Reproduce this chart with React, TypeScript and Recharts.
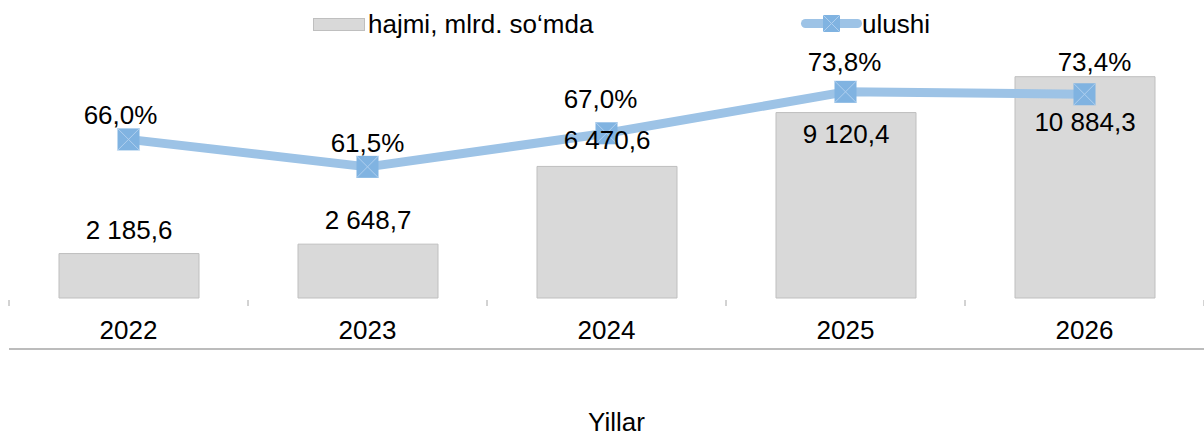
import React from 'react';
import { ComposedChart, Bar, Line, XAxis, YAxis, LabelList, Legend } from 'recharts';

// data
const years = ['2022', '2023', '2024', '2025', '2026'];
const hajmi = [2185.6, 2648.7, 6470.6, 9120.4, 10884.3];
const ulushi = [66.0, 61.5, 67.0, 73.8, 73.4];

const data = years.map((year, i) => ({ year, hajmi: hajmi[i], ulushi: ulushi[i] }));

const W = 1204;
const H = 436;
const M = { top: 14, right: 0, left: 9, bottom: 0 };
const half = (W - M.left - M.right) / years.length / 2;
const FONT = '"Liberation Sans", Arial, sans-serif';
const FS = 26;

// label nudges, like the hand-placed labels in the original
const barLabelDy = [-24, -24, -26, 21, 45];
const lineLabelDx = [-8, 0, -6, -1, 10];
const lineLabelDy = [-24, -24, -34, -30, -32];

const fmtNum = (v: number) => {
  const [int, dec] = v.toFixed(1).split('.');
  return int.replace(/\B(?=(\d{3})+(?!\d))/g, ' ') + ',' + dec;
};
const fmtPct = (v: number) => v.toFixed(1).replace('.', ',') + '%';

const YearTick = (props: any) => {
  const { x, y, payload, index } = props;
  return (
    <g>
      <line x1={x - half} x2={x - half} y1={y + 2} y2={y + 8} stroke="#A6A6A6" />
      {index === years.length - 1 && <line x1={x + half} x2={x + half} y1={y + 2} y2={y + 8} stroke="#A6A6A6" />}
      <line x1={x - half} x2={x + half} y1={y + 51} y2={y + 51} stroke="#A6A6A6" strokeWidth={1.5} />
      <text x={x} y={y + 32} textAnchor="middle" dominantBaseline="central" fontSize={FS} fontFamily={FONT} fill="#000">
        {payload.value}
      </text>
    </g>
  );
};

const AxisTitle = (props: any) => {
  const vb = props.viewBox;
  return (
    <text x={vb.x + vb.width / 2 + 10} y={vb.y + 133} textAnchor="middle" fontSize={FS} fontFamily={FONT} fill="#000">
      Yillar
    </text>
  );
};

const BarLabel = (props: any) => {
  const { x, y, width, value, index } = props;
  return (
    <text x={Number(x) + Number(width) / 2} y={Number(y) + barLabelDy[index]} textAnchor="middle" dominantBaseline="central" fontSize={FS} fontFamily={FONT} fill="#000">
      {fmtNum(value)}
    </text>
  );
};

const LineLabel = (props: any) => {
  const { x, y, value, index } = props;
  return (
    <text x={Number(x) + lineLabelDx[index]} y={Number(y) + lineLabelDy[index]} textAnchor="middle" dominantBaseline="central" fontSize={FS} fontFamily={FONT} fill="#000">
      {fmtPct(value)}
    </text>
  );
};

const Marker = (props: any) => {
  const { cx, cy, index } = props;
  const s = 11;
  return (
    <g key={'m' + index}>
      <rect x={cx - s} y={cy - s} width={s * 2} height={s * 2} fill="#80B3E1" />
      <line x1={cx - s} y1={cy - s} x2={cx + s} y2={cy + s} stroke="#AFCFEF" strokeWidth={1} />
      <line x1={cx - s} y1={cy + s} x2={cx + s} y2={cy - s} stroke="#AFCFEF" strokeWidth={1} />
    </g>
  );
};

const LegendBox = () => (
  <div style={{ position: 'relative', height: 40, width: W, fontFamily: FONT, fontSize: FS, color: '#000' }}>
    <div style={{ position: 'absolute', left: 313, top: 18, width: 52, height: 13, background: '#D9D9D9', border: '1px solid #BFBFBF', boxSizing: 'border-box' }} />
    <div style={{ position: 'absolute', left: 368, top: 9, lineHeight: '30px', whiteSpace: 'nowrap' }}>hajmi, mlrd. so‘mda</div>
    <div style={{ position: 'absolute', left: 801, top: 19, width: 61, height: 9, borderRadius: 5, background: '#9DC3E6' }} />
    <svg style={{ position: 'absolute', left: 823, top: 15 }} width={17} height={17}>
      <rect x={0} y={0} width={17} height={17} fill="#80B3E1" />
      <line x1={0} y1={0} x2={17} y2={17} stroke="#AFCFEF" />
      <line x1={0} y1={17} x2={17} y2={0} stroke="#AFCFEF" />
    </svg>
    <div style={{ position: 'absolute', left: 862, top: 9, lineHeight: '30px', whiteSpace: 'nowrap' }}>ulushi</div>
  </div>
);

export default function App() {
  return (
    <div>
      <style>{'body{margin:0;overflow:hidden;}'}</style>
      <ComposedChart width={W} height={H} data={data} margin={M}>
        <Legend verticalAlign="top" content={<LegendBox />} wrapperStyle={{ top: 0, left: 0, width: W }} />
        <XAxis
          dataKey="year"
          height={138}
          interval={0}
          tickLine={false}
          axisLine={false}
          tickSize={0}
          tickMargin={0}
          tick={<YearTick />}
          label={<AxisTitle />}
        />
        <YAxis yAxisId="l" domain={[0, 12000]} hide />
        <YAxis yAxisId="r" orientation="right" domain={[40, 80]} hide />
        <Bar yAxisId="l" dataKey="hajmi" fill="#D9D9D9" stroke="#BFBFBF" strokeWidth={1} barSize={140} isAnimationActive={false}>
          <LabelList dataKey="hajmi" content={<BarLabel />} />
        </Bar>
        <Line
          yAxisId="r"
          dataKey="ulushi"
          stroke="#9DC3E6"
          strokeWidth={9}
          strokeLinejoin="round"
          dot={(p: any) => <Marker key={'d' + p.index} {...p} />}
          activeDot={false}
          isAnimationActive={false}
        >
          <LabelList dataKey="ulushi" content={<LineLabel />} />
        </Line>
      </ComposedChart>
    </div>
  );
}
